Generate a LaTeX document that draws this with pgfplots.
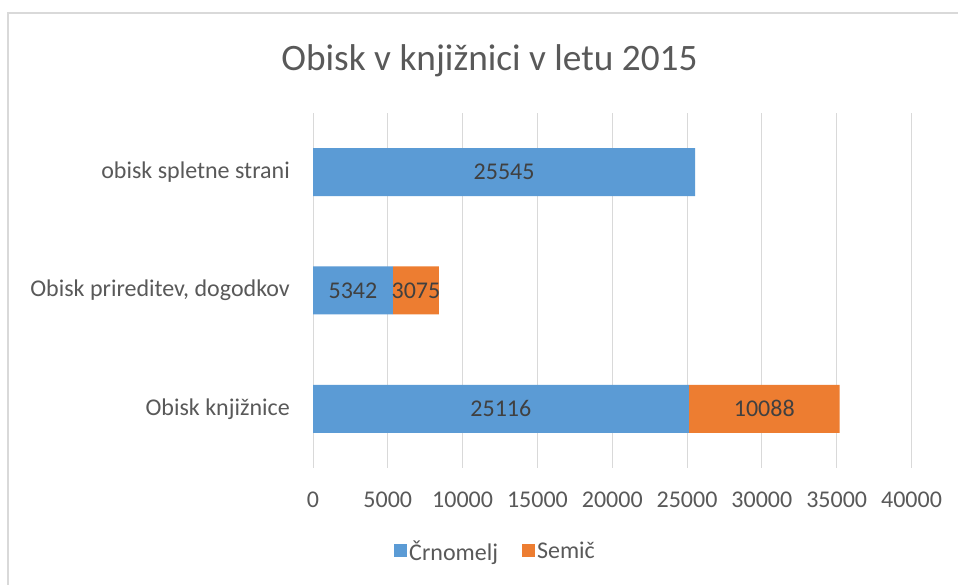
\documentclass[border=0pt]{standalone}
\usepackage{pgfplots}
\pgfplotsset{compat=1.18}
\usepackage{pgfplotstable}
\usepackage{fontspec}
\setmainfont{Carlito}
\definecolor{cblue}{HTML}{5B9BD5}
\definecolor{corange}{HTML}{ED7D31}
\definecolor{gridc}{HTML}{D9D9D9}
\definecolor{txt}{HTML}{595959}
\definecolor{lbl}{HTML}{404040}
\pgfplotstableread{
y c
0 25116
1 5342
2 25545
}\crnomelj
\pgfplotstableread{
y c
0 10088
1 3075
}\semic
\pgfplotsset{/pgf/number format/assume math mode=true, /pgf/number format/set thousands separator={}}
\begin{document}
\begin{tikzpicture}
\useasboundingbox (0pt,0pt) rectangle (958pt,585pt);
\clip (0pt,0pt) rectangle (958pt,585pt);
\fill[white] (0pt,0pt) rectangle (958pt,585pt);
\draw[gridc, line width=1.5pt] (8pt,-10pt) -- (8pt,572pt) -- (975pt,572pt);
\node[text=txt, font=\fontsize{37.3}{44}\selectfont] at (489.5pt,524pt) {Obisk v knjižnici v letu 2015};
\begin{axis}[
  at={(313pt,117pt)}, anchor=south west,
  scale only axis, width=598.5pt, height=355pt,
  xbar stacked, bar width=48pt,
  xmin=0, xmax=40000, ymin=-0.5, ymax=2.5,
  xtick={0,5000,...,40000},
  ytick={0,1,2},
  yticklabels={Obisk knjižnice, {Obisk prireditev, dogodkov}, obisk spletne strani},
  scaled x ticks=false,
  axis line style={draw=none},
  major tick length=0pt,
  xmajorgrids, major grid style={gridc, line width=1pt},
  tick label style={font=\fontsize{24}{28}\selectfont, text=txt},
  xticklabel style={anchor=base, yshift=-40pt, inner sep=0pt},
  yticklabel style={anchor=east, xshift=-23pt, inner sep=0pt},
  point meta=explicit,
  nodes near coords,
  every node near coord/.append style={anchor=center, text=lbl, font=\fontsize{24}{28}\selectfont},
  legend style={at={(axis description cs:0.305,-0.2338)}, anchor=center, draw=none, fill=none,
    legend columns=-1, font=\fontsize{24}{28}\selectfont, text=txt,
    nodes={inner sep=2.5pt},
    /tikz/every even column/.append style={column sep=21pt}},
  legend image code/.code={\fill[#1,draw=none] (0pt,-6.5pt) rectangle (13pt,6.5pt);},
]
\addplot[fill=cblue, draw=none] table[x=c, y=y, meta=c] {\crnomelj};
\addplot[fill=corange, draw=none] table[x=c, y=y, meta=c] {\semic};
\legend{Črnomelj, Semič}
\end{axis}
\end{tikzpicture}
\end{document}
